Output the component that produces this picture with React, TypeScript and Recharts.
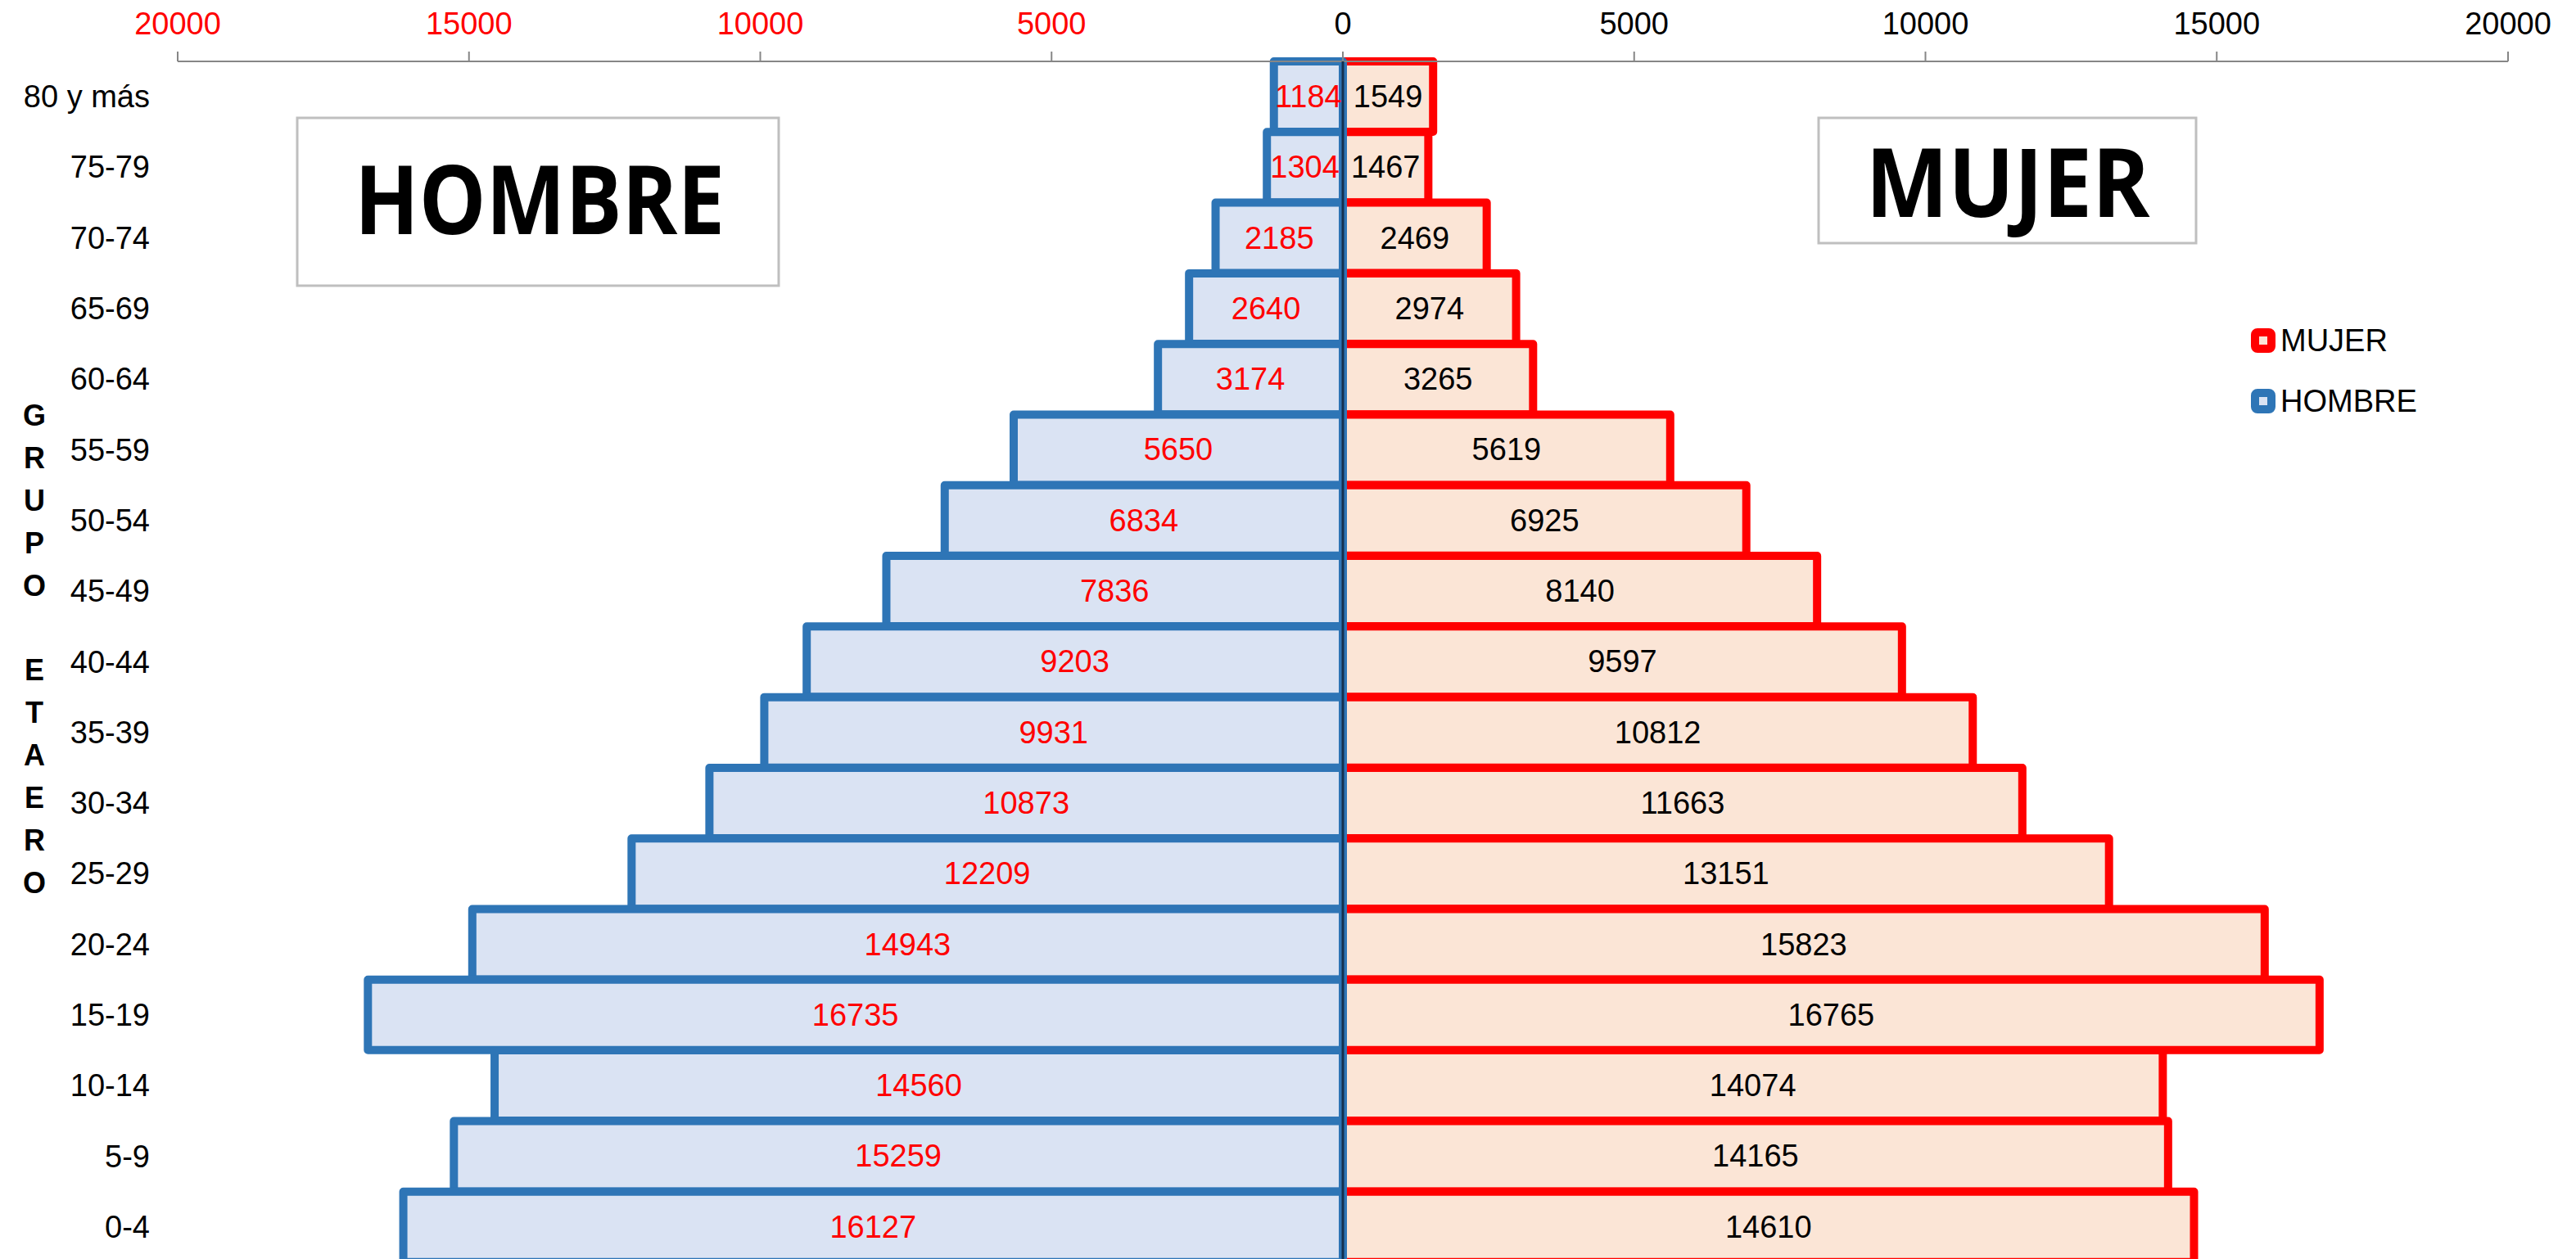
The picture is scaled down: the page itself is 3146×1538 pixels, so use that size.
import { Bar, BarChart, LabelList, Legend, ReferenceLine, XAxis, YAxis } from "recharts"

// age groups, top to bottom
const grupos = [
  "80 y más", "75-79", "70-74", "65-69", "60-64", "55-59", "50-54", "45-49", "40-44",
  "35-39", "30-34", "25-29", "20-24", "15-19", "10-14", "5-9", "0-4",
]
const hombre = [1184, 1304, 2185, 2640, 3174, 5650, 6834, 7836, 9203, 9931, 10873, 12209, 14943, 16735, 14560, 15259, 16127]
const mujer = [1549, 1467, 2469, 2974, 3265, 5619, 6925, 8140, 9597, 10812, 11663, 13151, 15823, 16765, 14074, 14165, 14610]
const ejeTicks = [-20000, -15000, -10000, -5000, 0, 5000, 10000, 15000, 20000]

const data = grupos.map((g, i) => ({ grupo: g, hombre: -hombre[i], mujer: mujer[i] }))

const FONT = "'Liberation Sans', Arial, sans-serif"
const ROJO = "#FF0000"
const AZUL = "#2E75B6"

const XTick = ({ x, y, payload }: any) => (
  <text x={x} y={y} textAnchor="middle" fontSize={38} fontFamily={FONT} fill={payload.value < 0 ? ROJO : "#000"}>
    {Math.abs(payload.value)}
  </text>
)

const YTick = ({ y, payload }: any) => (
  <text x={183} y={y} textAnchor="end" dominantBaseline="central" fontSize={38} fontFamily={FONT} fill="#000">
    {payload.value}
  </text>
)

const valorLabel = (color: string) => (props: any) => {
  const { x, y, width, height, value } = props
  return (
    <text
      x={x + width / 2}
      y={y + height / 2}
      textAnchor="middle"
      dominantBaseline="central"
      fontSize={38}
      fontFamily={FONT}
      fill={color}
    >
      {Math.abs(value)}
    </text>
  )
}

const legendItems = [
  { name: "MUJER", stroke: ROJO, fill: "#FBE5D6" },
  { name: "HOMBRE", stroke: AZUL, fill: "#DAE3F3" },
]

const LegendContent = () => (
  <div style={{ fontFamily: FONT, fontSize: 38, color: "#000" }}>
    {legendItems.map((it) => (
      <div key={it.name} style={{ display: "flex", alignItems: "center", height: 74 }}>
        <svg width={30} height={30} style={{ marginRight: 6 }}>
          <rect x={5} y={5} width={20} height={20} rx={3} fill={it.fill} stroke={it.stroke} strokeWidth={10} />
        </svg>
        <span>{it.name}</span>
      </div>
    ))}
  </div>
)

const letras = "GRUPO ETAERO".split("")

export default function App() {
  return (
    <div style={{ position: "absolute", left: 0, top: 0, width: 3146, height: 1538, overflow: "hidden", background: "#fff" }}>
      <BarChart
        width={3146}
        height={1545}
        data={data}
        layout="vertical"
        stackOffset="sign"
        barCategoryGap={0}
        margin={{ top: 0, right: 83, bottom: 3, left: 0 }}
      >
        <XAxis
          type="number"
          orientation="top"
          domain={[-20000, 20000]}
          ticks={ejeTicks}
          height={75}
          tickSize={12}
          tickMargin={21}
          axisLine={{ stroke: "#868686", strokeWidth: 2 }}
          tickLine={{ stroke: "#868686", strokeWidth: 2 }}
          tick={<XTick />}
        />
        <YAxis type="category" dataKey="grupo" width={217} axisLine={false} tickLine={false} interval={0} tick={<YTick />} />
        <Legend
          layout="vertical"
          align="center"
          verticalAlign="middle"
          wrapperStyle={{ left: 2749, top: 379, width: 300, height: 148 }}
          content={<LegendContent />}
        />
        <Bar dataKey="mujer" name="MUJER" stackId="a" fill="#FBE5D6" stroke={ROJO} strokeWidth={10} strokeLinejoin="round" isAnimationActive={false}>
          <LabelList dataKey="mujer" content={valorLabel("#000")} />
        </Bar>
        <Bar dataKey="hombre" name="HOMBRE" stackId="a" fill="#DAE3F3" stroke={AZUL} strokeWidth={10} strokeLinejoin="round" isAnimationActive={false}>
          <LabelList dataKey="hombre" content={valorLabel(ROJO)} />
        </Bar>
        <ReferenceLine x={0} stroke="#14304F" strokeWidth={3} zIndex={2000} />
      </BarChart>

      <svg width={3146} height={1538} style={{ position: "absolute", left: 0, top: 0, pointerEvents: "none" }}>
        <rect x={363} y={144} width={588} height={205} fill="#fff" stroke="#BFBFBF" strokeWidth={3} />
        <text x={659} y={286} textAnchor="middle" fontSize={116} fontWeight={700} fontFamily="'Open Sans', sans-serif" textLength={452} lengthAdjust="spacingAndGlyphs">
          HOMBRE
        </text>
        <rect x={2221} y={144} width={461} height={153} fill="#fff" stroke="#BFBFBF" strokeWidth={3} />
        <text x={2452} y={265} textAnchor="middle" fontSize={116} fontWeight={700} fontFamily="'Open Sans', sans-serif" textLength={347} lengthAdjust="spacingAndGlyphs">
          MUJER
        </text>
        {letras.map((l, i) => (
          <text key={i} x={42} y={507 + i * 51.9 + 13} textAnchor="middle" fontSize={36} fontWeight={700} fontFamily={FONT} fill="#000">
            {l}
          </text>
        ))}
      </svg>
    </div>
  )
}
